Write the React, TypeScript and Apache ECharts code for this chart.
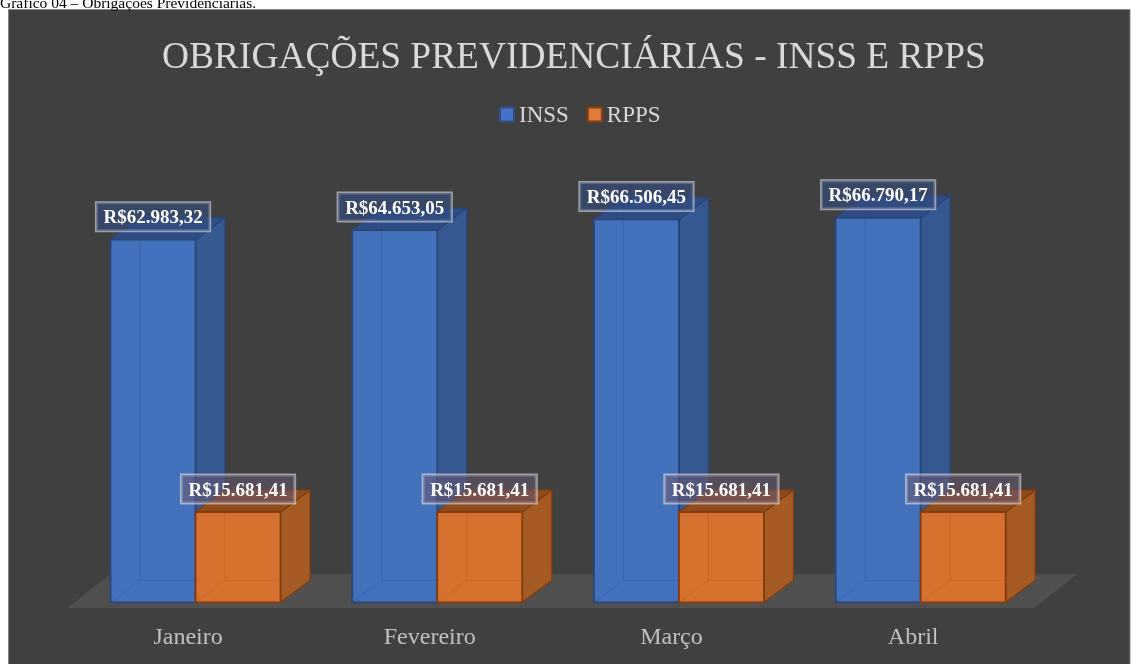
import React, { useEffect, useRef } from "react";
import * as echarts from "echarts";

const categories = ["Janeiro", "Fevereiro", "Março", "Abril"];
const inssValues = [62983.32, 64653.05, 66506.45, 66790.17];
const rppsValues = [15681.41, 15681.41, 15681.41, 15681.41];
const seriesNames = ["INSS", "RPPS"];
const captionText = "Gráfico 04 – Obrigações Previdenciárias.";
const titleText = "OBRIGAÇÕES PREVIDENCIÁRIAS - INSS E RPPS";

const FONT = '"Liberation Serif", "Times New Roman", serif';

// geometry constants (px)
const BAR_SHIFT_X = 7.5;
const BAR_SHIFT_Y = -5.7;
const BAR_W_RATIO = 0.3517;
const DEPTH_X = 29.5;
const DEPTH_Y = -22;
const FLOOR_DX = 43;
const FLOOR_DY = -33.7;

const palettes = [
  {
    legend: "#4472C4",
    legendBorder: "#2F4F86",
    front: "#4471BB",
    side: "#36578F",
    top: "#2F4D84",
    edge: "#2A4677",
    hidden: "rgba(30,60,120,0.22)",
    labelBg: "rgba(50,76,126,0.65)",
  },
  {
    legend: "#E07B39",
    legendBorder: "#8A3F0E",
    front: "#D5722F",
    side: "#A65B24",
    top: "#8E4C1D",
    edge: "#843C0C",
    hidden: "rgba(150,70,20,0.22)",
    labelBg: "rgba(104,88,112,0.55)",
  },
];

function fmtBRL(v: number): string {
  const [intPart, dec] = v.toFixed(2).split(".");
  const withDots = intPart.replace(/\B(?=(\d{3})+(?!\d))/g, ".");
  return "R$" + withDots + "," + dec;
}

function makeBarRender(side: number) {
  const pal = palettes[side];
  return (params: any, api: any) => {
    const idx = api.value(0);
    const val = api.value(1);
    const base = api.coord([idx, 0]);
    const top = api.coord([idx, val]);
    const band = api.size([1, 0])[0];
    const w = band * BAR_W_RATIO;
    const cx = base[0] + BAR_SHIFT_X;
    const x0 = side === 0 ? cx - w : cx;
    const x1 = x0 + w;
    const yb = base[1] + BAR_SHIFT_Y;
    const yt = top[1] + BAR_SHIFT_Y;
    const dx = DEPTH_X;
    const dy = DEPTH_Y;
    return {
      type: "group",
      children: [
        {
          type: "polygon",
          z2: 1,
          shape: { points: [[x1, yb], [x1 + dx, yb + dy], [x1 + dx, yt + dy], [x1, yt]] },
          style: { fill: pal.side, stroke: pal.edge, lineWidth: 1.2 },
        },
        {
          type: "polygon",
          z2: 2,
          shape: { points: [[x0, yt], [x1, yt], [x1 + dx, yt + dy], [x0 + dx, yt + dy]] },
          style: { fill: pal.top, stroke: pal.edge, lineWidth: 1.2 },
        },
        {
          type: "rect",
          z2: 3,
          shape: { x: x0, y: yt, width: w, height: yb - yt },
          style: { fill: pal.front, stroke: pal.edge, lineWidth: 1.8 },
        },
        {
          type: "polyline",
          z2: 4,
          shape: { points: [[x0 + dx, yt + dy], [x0 + dx, yb + dy], [x1, yb + dy]] },
          style: { fill: "none", stroke: pal.hidden, lineWidth: 1 },
        },
        {
          type: "line",
          z2: 4,
          shape: { x1: x0, y1: yb, x2: x0 + dx, y2: yb + dy },
          style: { stroke: pal.hidden, lineWidth: 1 },
        },
        {
          type: "text",
          z2: 10,
          style: {
            text: fmtBRL(val),
            x: (x0 + x1) / 2,
            y: yt - 23,
            align: "center",
            verticalAlign: "middle",
            font: "bold 19px " + FONT,
            fill: "#ffffff",
            backgroundColor: pal.labelBg,
            borderColor: "rgba(255,255,255,0.5)",
            borderWidth: 1.5,
            padding: [5, 7, 4, 7],
          },
        },
      ],
    };
  };
}

function floorRender(params: any, api: any) {
  const band = api.size([1, 0])[0];
  const first = api.coord([0, 0]);
  const last = api.coord([categories.length - 1, 0]);
  const left = first[0] - band / 2;
  const right = last[0] + band / 2;
  const y = first[1];
  return {
    type: "polygon",
    shape: {
      points: [
        [left, y],
        [right, y],
        [right + FLOOR_DX, y + FLOOR_DY],
        [left + FLOOR_DX, y + FLOOR_DY],
      ],
    },
    style: { fill: "#505050" },
  };
}

export default function App() {
  const ref = useRef<HTMLDivElement>(null);
  useEffect(() => {
    if (!ref.current) return;
    const chart = echarts.init(ref.current, null, { renderer: "svg" });
    chart.setOption({
      animation: false,
      graphic: [
        {
          type: "rect",
          z: 0,
          shape: { x: 8.5, y: 9.5, width: 1121.5, height: 700 },
          style: { fill: "#404040", stroke: "#858585", lineWidth: 1 },
        },
        {
          type: "text",
          z: 1,
          style: {
            text: captionText,
            x: 0,
            y: 2.5,
            align: "left",
            verticalAlign: "middle",
            font: "15.5px " + FONT,
            fill: "#000000",
          },
        },
        {
          type: "text",
          z: 1,
          style: {
            text: titleText,
            x: 574,
            y: 55,
            align: "center",
            verticalAlign: "middle",
            font: "37.4px " + FONT,
            fill: "#d9d9d9",
          },
        },
      ],
      legend: {
        data: seriesNames,
        left: 499,
        top: 103,
        padding: 0,
        itemWidth: 14,
        itemHeight: 14,
        itemGap: 18,
        icon: "rect",
        selectedMode: false,
        textStyle: { color: "#d9d9d9", fontSize: 23, fontFamily: FONT },
      },
      grid: { left: 67.2, right: 97, top: 205, bottom: 56 },
      xAxis: {
        type: "category",
        data: categories,
        axisLine: { show: false },
        axisTick: { show: false },
        splitLine: { show: false },
        axisLabel: {
          color: "#c0c0c0",
          fontSize: 24,
          fontFamily: FONT,
          margin: 28,
          verticalAlign: "middle",
        },
      },
      yAxis: { type: "value", min: 0, max: 70000, show: false },
      series: [
        {
          type: "custom",
          name: "floor",
          z: 1,
          renderItem: floorRender,
          data: [[0, 0]],
          encode: { x: 0, y: 1 },
          silent: true,
        },
        {
          type: "custom",
          name: seriesNames[0],
          z: 2,
          renderItem: makeBarRender(0),
          itemStyle: { color: palettes[0].legend, borderColor: palettes[0].legendBorder, borderWidth: 1.5 },
          data: inssValues.map((v, i) => [i, v]),
          encode: { x: 0, y: 1 },
        },
        {
          type: "custom",
          name: seriesNames[1],
          z: 3,
          renderItem: makeBarRender(1),
          itemStyle: { color: palettes[1].legend, borderColor: palettes[1].legendBorder, borderWidth: 1.5 },
          data: rppsValues.map((v, i) => [i, v]),
          encode: { x: 0, y: 1 },
        },
      ],
    });
    return () => chart.dispose();
  }, []);
  return (
    <div
      ref={ref}
      style={{ position: "fixed", left: 0, top: 0, width: 1131, height: 664 }}
    />
  );
}
